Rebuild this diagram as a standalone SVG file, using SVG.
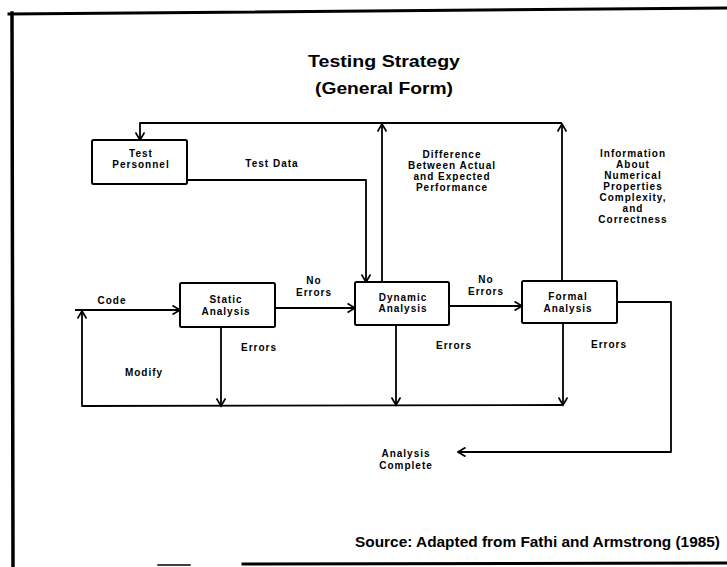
<svg xmlns="http://www.w3.org/2000/svg" width="727" height="567" viewBox="0 0 727 567">
  <style>
    .frame { fill: none; stroke: #000; stroke-linecap: square; }
    .box { fill: #fff; stroke: #000; stroke-width: 2; }
    .wire { fill: none; stroke: #000; stroke-width: 1.8; stroke-linejoin: round; }
    .lbl { font-family: "Liberation Sans", Arial, sans-serif; font-weight: bold; font-size: 10px; letter-spacing: 1px; text-anchor: middle; fill: #000; }
    .title { font-family: "Liberation Sans", Arial, sans-serif; font-weight: bold; font-size: 17px; text-anchor: middle; fill: #000; }
    .src { font-family: "Liberation Sans", Arial, sans-serif; font-weight: bold; font-size: 14px; fill: #000; }
  </style>
  <defs>
    <marker id="arr" viewBox="0 0 10 10" refX="8.5" refY="5" markerWidth="10" markerHeight="10" markerUnits="userSpaceOnUse" orient="auto">
      <path d="M1,0.5 L8.5,5 L1,9.5" fill="none" stroke="#000" stroke-width="1.7"/>
    </marker>
  </defs>

  <rect width="727" height="567" fill="#fff"/>

  <!-- page frame -->
  <g id="frame">
    <path class="frame" d="M9,14 L727,8" stroke-width="3"/>
    <path class="frame" d="M12,13 L13,567" stroke-width="3.5"/>
    <path class="frame" d="M158,565 L190,565" stroke-width="1.5"/>
    <path class="frame" d="M243,564 L727,563" stroke-width="3"/>
  </g>

  <!-- heading -->
  <g id="heading">
    <text class="title" x="384" y="67" textLength="152" lengthAdjust="spacingAndGlyphs">Testing Strategy</text>
    <text class="title" x="384" y="94" textLength="138" lengthAdjust="spacingAndGlyphs">(General Form)</text>
  </g>

  <!-- connectors -->
  <g id="connectors">
    <!-- feedback to test personnel -->
    <path class="wire" d="M382,282 L382,124" marker-end="url(#arr)"/>
    <path class="wire" d="M562,281 L562,124" marker-end="url(#arr)"/>
    <path class="wire" d="M562,123 L140,123 L140,140" marker-end="url(#arr)"/>
    <!-- test data -->
    <path class="wire" d="M187,180 L366,180 L366,282" marker-end="url(#arr)"/>
    <!-- code in, modify loop -->
    <path class="wire" d="M75,310 L180,310" marker-end="url(#arr)"/>
    <path class="wire" d="M563,405 L82,406 L82,311" marker-end="url(#arr)"/>
    <!-- no errors -->
    <path class="wire" d="M275,308 L355,308" marker-end="url(#arr)"/>
    <path class="wire" d="M449,306 L522,306" marker-end="url(#arr)"/>
    <!-- errors -->
    <path class="wire" d="M221,327 L221,406" marker-end="url(#arr)"/>
    <path class="wire" d="M396,325 L396,405" marker-end="url(#arr)"/>
    <path class="wire" d="M563,323 L563,405" marker-end="url(#arr)"/>
    <!-- analysis complete -->
    <path class="wire" d="M617,302 L671,302 L671,452 L458,452" marker-end="url(#arr)"/>
  </g>

  <!-- connector labels -->
  <g id="labels">
    <text class="lbl" x="272" y="167">Test Data</text>
    <text class="lbl" x="112" y="304">Code</text>
    <text class="lbl" x="314" y="284">No</text>
    <text class="lbl" x="314" y="296">Errors</text>
    <text class="lbl" x="486" y="283">No</text>
    <text class="lbl" x="486" y="295">Errors</text>
    <text class="lbl" x="259" y="351">Errors</text>
    <text class="lbl" x="454" y="349">Errors</text>
    <text class="lbl" x="609" y="348">Errors</text>
    <text class="lbl" x="144" y="376">Modify</text>
    <text class="lbl" x="452" y="158">Difference</text>
    <text class="lbl" x="452" y="169">Between Actual</text>
    <text class="lbl" x="452" y="180">and Expected</text>
    <text class="lbl" x="452" y="191">Performance</text>
    <text class="lbl" x="633" y="157">Information</text>
    <text class="lbl" x="633" y="168">About</text>
    <text class="lbl" x="633" y="179">Numerical</text>
    <text class="lbl" x="633" y="190">Properties</text>
    <text class="lbl" x="633" y="201">Complexity,</text>
    <text class="lbl" x="633" y="212">and</text>
    <text class="lbl" x="633" y="223">Correctness</text>
    <text class="lbl" x="406" y="457">Analysis</text>
    <text class="lbl" x="406" y="469">Complete</text>
  </g>

  <!-- nodes -->
  <g id="test-personnel">
    <rect class="box" x="92" y="140" width="95" height="44" rx="1.5"/>
    <text class="lbl" x="141" y="157">Test</text>
    <text class="lbl" x="141" y="168">Personnel</text>
  </g>
  <g id="static-analysis">
    <rect class="box" x="180" y="283" width="95" height="44" rx="1.5"/>
    <text class="lbl" x="226" y="303">Static</text>
    <text class="lbl" x="226" y="315">Analysis</text>
  </g>
  <g id="dynamic-analysis">
    <rect class="box" x="355" y="282" width="94" height="43" rx="1.5"/>
    <text class="lbl" x="403" y="301">Dynamic</text>
    <text class="lbl" x="403" y="312">Analysis</text>
  </g>
  <g id="formal-analysis">
    <rect class="box" x="522" y="281" width="95" height="42" rx="1.5"/>
    <text class="lbl" x="568" y="300">Formal</text>
    <text class="lbl" x="568" y="312">Analysis</text>
  </g>

  <!-- citation -->
  <g id="source">
    <text class="src" x="355" y="547" textLength="365" lengthAdjust="spacingAndGlyphs">Source: Adapted from Fathi and Armstrong (1985)</text>
  </g>
</svg>
